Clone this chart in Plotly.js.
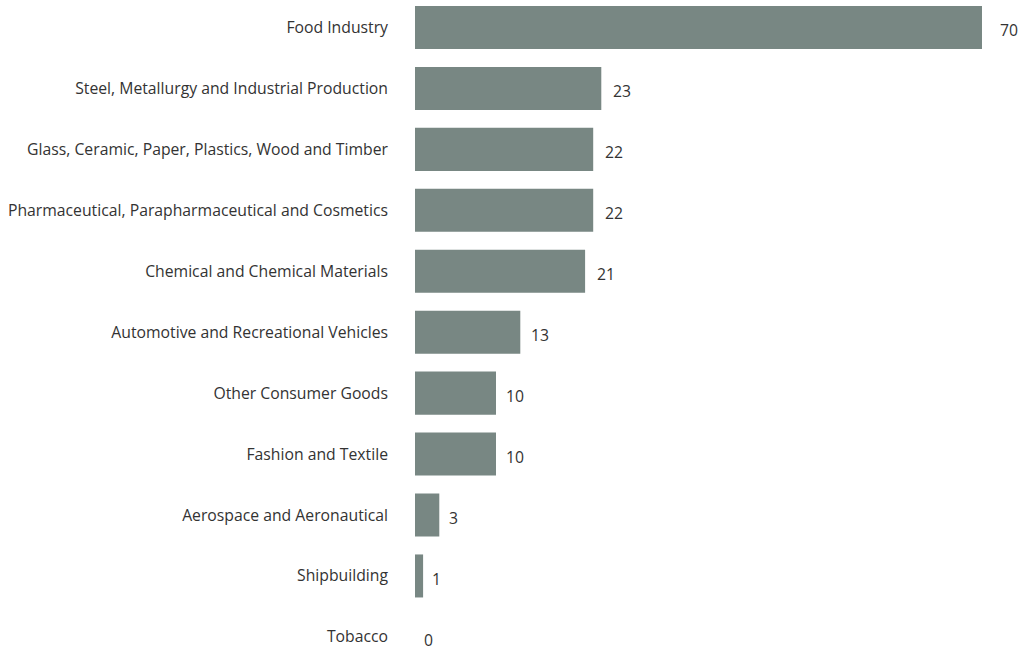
<!DOCTYPE html>
<html>
<head>
<meta charset="utf-8">
<script src="https://cdn.plot.ly/plotly-3.0.1.min.js"></script>
<style>html,body{margin:0;padding:0;background:#fff;}#chart{width:1028px;height:655px;}</style>
</head>
<body>
<div id="chart"></div>
<script>
const categories = [
  "Food Industry",
  "Steel, Metallurgy and Industrial Production",
  "Glass, Ceramic, Paper, Plastics, Wood and Timber",
  "Pharmaceutical, Parapharmaceutical and Cosmetics",
  "Chemical and Chemical Materials",
  "Automotive and Recreational Vehicles",
  "Other Consumer Goods",
  "Fashion and Textile",
  "Aerospace and Aeronautical",
  "Shipbuilding",
  "Tobacco"
];
const values = [70, 23, 22, 22, 21, 13, 10, 10, 3, 1, 0];

const barColor = "#788783";
const textColor = "#333333";
const fontFamily = "'Open Sans', sans-serif";

const trace = {
  type: "bar",
  orientation: "h",
  x: values,
  y: categories,
  marker: {color: barColor},
  hoverinfo: "none"
};

const annotations = values.map((v, i) => ({
  x: v,
  y: categories[i],
  xref: "x",
  yref: "y",
  text: String(v),
  showarrow: false,
  xanchor: "left",
  yanchor: "middle",
  xshift: 7 + v * 0.13,
  yshift: -3,
  font: {family: fontFamily, size: 15.75, color: textColor}
}));

const layout = {
  width: 1028,
  height: 655,
  margin: {l: 415, r: 0, t: 0, b: 0, pad: 0},
  paper_bgcolor: "#ffffff",
  plot_bgcolor: "#ffffff",
  showlegend: false,
  bargap: 0.294,
  font: {family: fontFamily, size: 15.75, color: textColor},
  xaxis: {
    range: [0, 75.68],
    showgrid: false,
    zeroline: false,
    showline: false,
    showticklabels: false,
    ticks: ""
  },
  yaxis: {
    type: "category",
    categoryorder: "array",
    categoryarray: categories,
    range: [10.297, -0.451],
    autorange: false,
    showgrid: false,
    zeroline: false,
    showline: false,
    ticks: "",
    ticklabelstandoff: 26,
    tickfont: {family: fontFamily, size: 15.75, color: textColor}
  },
  annotations: annotations
};

Plotly.newPlot("chart", [trace], layout, {displayModeBar: false, staticPlot: true});
</script>
</body>
</html>
